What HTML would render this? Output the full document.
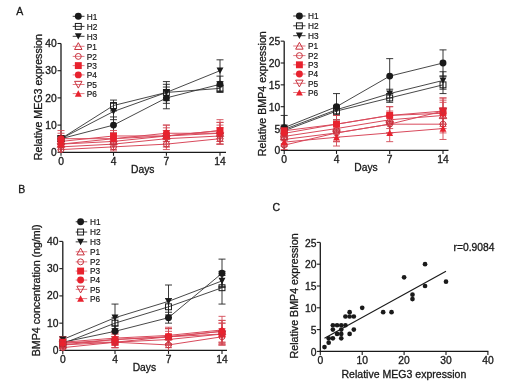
<!DOCTYPE html><html><head><meta charset="utf-8"><style>html,body{margin:0;padding:0;background:#fff;}svg{display:block;will-change:transform;filter:blur(0.25px);}text{stroke:#222;stroke-width:0.3px;font-family:"Liberation Sans", sans-serif;}</style></head><body>
<svg width="520" height="390" viewBox="0 0 520 390">
<rect width="520" height="390" fill="#fff"/>
<text x="16.20" y="15.20" font-size="10.5" text-anchor="start" fill="#111" >A</text>
<text x="18.30" y="193.40" font-size="10.5" text-anchor="start" fill="#111" >B</text>
<text x="272.50" y="210.50" font-size="10.5" text-anchor="start" fill="#111" >C</text>
<line x1="61" y1="43.50" x2="61" y2="152.3" stroke="#1a1a1a" stroke-width="1.3"/>
<line x1="60.35" y1="152.3" x2="226" y2="152.3" stroke="#1a1a1a" stroke-width="1.3"/>
<line x1="57.5" y1="152.30" x2="61" y2="152.30" stroke="#1a1a1a" stroke-width="1.1"/>
<text x="56.80" y="156.00" font-size="10.3" text-anchor="end" fill="#111" >0</text>
<line x1="57.5" y1="125.10" x2="61" y2="125.10" stroke="#1a1a1a" stroke-width="1.1"/>
<text x="56.80" y="128.80" font-size="10.3" text-anchor="end" fill="#111" >10</text>
<line x1="57.5" y1="97.90" x2="61" y2="97.90" stroke="#1a1a1a" stroke-width="1.1"/>
<text x="56.80" y="101.60" font-size="10.3" text-anchor="end" fill="#111" >20</text>
<line x1="57.5" y1="70.70" x2="61" y2="70.70" stroke="#1a1a1a" stroke-width="1.1"/>
<text x="56.80" y="74.40" font-size="10.3" text-anchor="end" fill="#111" >30</text>
<line x1="57.5" y1="43.50" x2="61" y2="43.50" stroke="#1a1a1a" stroke-width="1.1"/>
<text x="56.80" y="47.20" font-size="10.3" text-anchor="end" fill="#111" >40</text>
<line x1="61" y1="152.3" x2="61" y2="155.8" stroke="#1a1a1a" stroke-width="1.1"/>
<text x="61.00" y="164.60" font-size="10.3" text-anchor="middle" fill="#111" >0</text>
<line x1="113.5" y1="152.3" x2="113.5" y2="155.8" stroke="#1a1a1a" stroke-width="1.1"/>
<text x="113.50" y="164.60" font-size="10.3" text-anchor="middle" fill="#111" >4</text>
<line x1="166.4" y1="152.3" x2="166.4" y2="155.8" stroke="#1a1a1a" stroke-width="1.1"/>
<text x="166.40" y="164.60" font-size="10.3" text-anchor="middle" fill="#111" >7</text>
<line x1="220" y1="152.3" x2="220" y2="155.8" stroke="#1a1a1a" stroke-width="1.1"/>
<text x="220.00" y="164.60" font-size="10.3" text-anchor="middle" fill="#111" >14</text>
<text x="142.75" y="173.20" font-size="10.3" text-anchor="middle" fill="#111" >Days</text>
<text x="0" y="0" font-size="10.67" text-anchor="middle" fill="#111" transform="translate(42.2,97.1) rotate(-90)">Relative MEG3 expression</text>
<polyline points="61.00,138.70 113.50,105.52 166.40,92.46 220.00,88.38" fill="none" stroke="#333" stroke-width="0.9"/>
<polyline points="61.00,138.70 113.50,111.50 166.40,92.46 220.00,70.70" fill="none" stroke="#333" stroke-width="0.9"/>
<polyline points="61.00,138.70 113.50,125.10 166.40,97.90 220.00,84.30" fill="none" stroke="#333" stroke-width="0.9"/>
<polyline points="61.00,144.14 113.50,141.42 166.40,135.98 220.00,133.26" fill="none" stroke="#d94a5c" stroke-width="1.0"/>
<polyline points="61.00,149.58 113.50,146.86 166.40,144.14 220.00,138.70" fill="none" stroke="#d94a5c" stroke-width="1.0"/>
<polyline points="61.00,141.42 113.50,135.98 166.40,135.98 220.00,130.54" fill="none" stroke="#d94a5c" stroke-width="1.0"/>
<polyline points="61.00,138.70 113.50,138.70 166.40,133.26 220.00,133.26" fill="none" stroke="#d94a5c" stroke-width="1.0"/>
<polyline points="61.00,146.86 113.50,144.14 166.40,138.70 220.00,135.98" fill="none" stroke="#d94a5c" stroke-width="1.0"/>
<polyline points="61.00,144.14 113.50,138.70 166.40,135.98 220.00,130.54" fill="none" stroke="#d94a5c" stroke-width="1.0"/>
<line x1="61" y1="135.98" x2="61" y2="141.42" stroke="#222" stroke-width="0.9"/>
<line x1="57.5" y1="135.98" x2="64.5" y2="135.98" stroke="#222" stroke-width="0.9"/>
<line x1="57.5" y1="141.42" x2="64.5" y2="141.42" stroke="#222" stroke-width="0.9"/>
<line x1="113.5" y1="100.08" x2="113.5" y2="110.96" stroke="#222" stroke-width="0.9"/>
<line x1="110.0" y1="100.08" x2="117.0" y2="100.08" stroke="#222" stroke-width="0.9"/>
<line x1="110.0" y1="110.96" x2="117.0" y2="110.96" stroke="#222" stroke-width="0.9"/>
<line x1="166.4" y1="84.30" x2="166.4" y2="100.62" stroke="#222" stroke-width="0.9"/>
<line x1="162.9" y1="84.30" x2="169.9" y2="84.30" stroke="#222" stroke-width="0.9"/>
<line x1="162.9" y1="100.62" x2="169.9" y2="100.62" stroke="#222" stroke-width="0.9"/>
<line x1="220" y1="85.66" x2="220" y2="91.10" stroke="#222" stroke-width="0.9"/>
<line x1="216.5" y1="85.66" x2="223.5" y2="85.66" stroke="#222" stroke-width="0.9"/>
<line x1="216.5" y1="91.10" x2="223.5" y2="91.10" stroke="#222" stroke-width="0.9"/>
<line x1="61" y1="135.98" x2="61" y2="141.42" stroke="#222" stroke-width="0.9"/>
<line x1="57.5" y1="135.98" x2="64.5" y2="135.98" stroke="#222" stroke-width="0.9"/>
<line x1="57.5" y1="141.42" x2="64.5" y2="141.42" stroke="#222" stroke-width="0.9"/>
<line x1="113.5" y1="103.34" x2="113.5" y2="119.66" stroke="#222" stroke-width="0.9"/>
<line x1="110.0" y1="103.34" x2="117.0" y2="103.34" stroke="#222" stroke-width="0.9"/>
<line x1="110.0" y1="119.66" x2="117.0" y2="119.66" stroke="#222" stroke-width="0.9"/>
<line x1="166.4" y1="81.58" x2="166.4" y2="103.34" stroke="#222" stroke-width="0.9"/>
<line x1="162.9" y1="81.58" x2="169.9" y2="81.58" stroke="#222" stroke-width="0.9"/>
<line x1="162.9" y1="103.34" x2="169.9" y2="103.34" stroke="#222" stroke-width="0.9"/>
<line x1="220" y1="59.82" x2="220" y2="81.58" stroke="#222" stroke-width="0.9"/>
<line x1="216.5" y1="59.82" x2="223.5" y2="59.82" stroke="#222" stroke-width="0.9"/>
<line x1="216.5" y1="81.58" x2="223.5" y2="81.58" stroke="#222" stroke-width="0.9"/>
<line x1="61" y1="135.98" x2="61" y2="141.42" stroke="#222" stroke-width="0.9"/>
<line x1="57.5" y1="135.98" x2="64.5" y2="135.98" stroke="#222" stroke-width="0.9"/>
<line x1="57.5" y1="141.42" x2="64.5" y2="141.42" stroke="#222" stroke-width="0.9"/>
<line x1="113.5" y1="116.94" x2="113.5" y2="133.26" stroke="#222" stroke-width="0.9"/>
<line x1="110.0" y1="116.94" x2="117.0" y2="116.94" stroke="#222" stroke-width="0.9"/>
<line x1="110.0" y1="133.26" x2="117.0" y2="133.26" stroke="#222" stroke-width="0.9"/>
<line x1="166.4" y1="87.02" x2="166.4" y2="108.78" stroke="#222" stroke-width="0.9"/>
<line x1="162.9" y1="87.02" x2="169.9" y2="87.02" stroke="#222" stroke-width="0.9"/>
<line x1="162.9" y1="108.78" x2="169.9" y2="108.78" stroke="#222" stroke-width="0.9"/>
<line x1="220" y1="76.14" x2="220" y2="92.46" stroke="#222" stroke-width="0.9"/>
<line x1="216.5" y1="76.14" x2="223.5" y2="76.14" stroke="#222" stroke-width="0.9"/>
<line x1="216.5" y1="92.46" x2="223.5" y2="92.46" stroke="#222" stroke-width="0.9"/>
<line x1="61" y1="135.98" x2="61" y2="152.30" stroke="#d24a56" stroke-width="0.9"/>
<line x1="57.5" y1="135.98" x2="64.5" y2="135.98" stroke="#d24a56" stroke-width="0.9"/>
<line x1="113.5" y1="135.98" x2="113.5" y2="146.86" stroke="#d24a56" stroke-width="0.9"/>
<line x1="110.0" y1="135.98" x2="117.0" y2="135.98" stroke="#d24a56" stroke-width="0.9"/>
<line x1="110.0" y1="146.86" x2="117.0" y2="146.86" stroke="#d24a56" stroke-width="0.9"/>
<line x1="166.4" y1="125.10" x2="166.4" y2="146.86" stroke="#d24a56" stroke-width="0.9"/>
<line x1="162.9" y1="125.10" x2="169.9" y2="125.10" stroke="#d24a56" stroke-width="0.9"/>
<line x1="162.9" y1="146.86" x2="169.9" y2="146.86" stroke="#d24a56" stroke-width="0.9"/>
<line x1="220" y1="122.38" x2="220" y2="144.14" stroke="#d24a56" stroke-width="0.9"/>
<line x1="216.5" y1="122.38" x2="223.5" y2="122.38" stroke="#d24a56" stroke-width="0.9"/>
<line x1="216.5" y1="144.14" x2="223.5" y2="144.14" stroke="#d24a56" stroke-width="0.9"/>
<line x1="61" y1="144.14" x2="61" y2="152.30" stroke="#d24a56" stroke-width="0.9"/>
<line x1="57.5" y1="144.14" x2="64.5" y2="144.14" stroke="#d24a56" stroke-width="0.9"/>
<line x1="113.5" y1="142.78" x2="113.5" y2="150.94" stroke="#d24a56" stroke-width="0.9"/>
<line x1="110.0" y1="142.78" x2="117.0" y2="142.78" stroke="#d24a56" stroke-width="0.9"/>
<line x1="110.0" y1="150.94" x2="117.0" y2="150.94" stroke="#d24a56" stroke-width="0.9"/>
<line x1="166.4" y1="138.70" x2="166.4" y2="149.58" stroke="#d24a56" stroke-width="0.9"/>
<line x1="162.9" y1="138.70" x2="169.9" y2="138.70" stroke="#d24a56" stroke-width="0.9"/>
<line x1="162.9" y1="149.58" x2="169.9" y2="149.58" stroke="#d24a56" stroke-width="0.9"/>
<line x1="220" y1="133.26" x2="220" y2="144.14" stroke="#d24a56" stroke-width="0.9"/>
<line x1="216.5" y1="133.26" x2="223.5" y2="133.26" stroke="#d24a56" stroke-width="0.9"/>
<line x1="216.5" y1="144.14" x2="223.5" y2="144.14" stroke="#d24a56" stroke-width="0.9"/>
<line x1="61" y1="130.54" x2="61" y2="152.30" stroke="#d24a56" stroke-width="0.9"/>
<line x1="57.5" y1="130.54" x2="64.5" y2="130.54" stroke="#d24a56" stroke-width="0.9"/>
<line x1="113.5" y1="130.54" x2="113.5" y2="141.42" stroke="#d24a56" stroke-width="0.9"/>
<line x1="110.0" y1="130.54" x2="117.0" y2="130.54" stroke="#d24a56" stroke-width="0.9"/>
<line x1="110.0" y1="141.42" x2="117.0" y2="141.42" stroke="#d24a56" stroke-width="0.9"/>
<line x1="166.4" y1="127.82" x2="166.4" y2="144.14" stroke="#d24a56" stroke-width="0.9"/>
<line x1="162.9" y1="127.82" x2="169.9" y2="127.82" stroke="#d24a56" stroke-width="0.9"/>
<line x1="162.9" y1="144.14" x2="169.9" y2="144.14" stroke="#d24a56" stroke-width="0.9"/>
<line x1="220" y1="119.66" x2="220" y2="141.42" stroke="#d24a56" stroke-width="0.9"/>
<line x1="216.5" y1="119.66" x2="223.5" y2="119.66" stroke="#d24a56" stroke-width="0.9"/>
<line x1="216.5" y1="141.42" x2="223.5" y2="141.42" stroke="#d24a56" stroke-width="0.9"/>
<line x1="61" y1="133.26" x2="61" y2="144.14" stroke="#d24a56" stroke-width="0.9"/>
<line x1="57.5" y1="133.26" x2="64.5" y2="133.26" stroke="#d24a56" stroke-width="0.9"/>
<line x1="57.5" y1="144.14" x2="64.5" y2="144.14" stroke="#d24a56" stroke-width="0.9"/>
<line x1="113.5" y1="133.26" x2="113.5" y2="144.14" stroke="#d24a56" stroke-width="0.9"/>
<line x1="110.0" y1="133.26" x2="117.0" y2="133.26" stroke="#d24a56" stroke-width="0.9"/>
<line x1="110.0" y1="144.14" x2="117.0" y2="144.14" stroke="#d24a56" stroke-width="0.9"/>
<line x1="166.4" y1="125.10" x2="166.4" y2="141.42" stroke="#d24a56" stroke-width="0.9"/>
<line x1="162.9" y1="125.10" x2="169.9" y2="125.10" stroke="#d24a56" stroke-width="0.9"/>
<line x1="162.9" y1="141.42" x2="169.9" y2="141.42" stroke="#d24a56" stroke-width="0.9"/>
<line x1="220" y1="125.10" x2="220" y2="141.42" stroke="#d24a56" stroke-width="0.9"/>
<line x1="216.5" y1="125.10" x2="223.5" y2="125.10" stroke="#d24a56" stroke-width="0.9"/>
<line x1="216.5" y1="141.42" x2="223.5" y2="141.42" stroke="#d24a56" stroke-width="0.9"/>
<line x1="61" y1="141.42" x2="61" y2="152.30" stroke="#d24a56" stroke-width="0.9"/>
<line x1="57.5" y1="141.42" x2="64.5" y2="141.42" stroke="#d24a56" stroke-width="0.9"/>
<line x1="113.5" y1="138.70" x2="113.5" y2="149.58" stroke="#d24a56" stroke-width="0.9"/>
<line x1="110.0" y1="138.70" x2="117.0" y2="138.70" stroke="#d24a56" stroke-width="0.9"/>
<line x1="110.0" y1="149.58" x2="117.0" y2="149.58" stroke="#d24a56" stroke-width="0.9"/>
<line x1="166.4" y1="130.54" x2="166.4" y2="146.86" stroke="#d24a56" stroke-width="0.9"/>
<line x1="162.9" y1="130.54" x2="169.9" y2="130.54" stroke="#d24a56" stroke-width="0.9"/>
<line x1="162.9" y1="146.86" x2="169.9" y2="146.86" stroke="#d24a56" stroke-width="0.9"/>
<line x1="220" y1="127.82" x2="220" y2="144.14" stroke="#d24a56" stroke-width="0.9"/>
<line x1="216.5" y1="127.82" x2="223.5" y2="127.82" stroke="#d24a56" stroke-width="0.9"/>
<line x1="216.5" y1="144.14" x2="223.5" y2="144.14" stroke="#d24a56" stroke-width="0.9"/>
<line x1="61" y1="138.70" x2="61" y2="149.58" stroke="#d24a56" stroke-width="0.9"/>
<line x1="57.5" y1="138.70" x2="64.5" y2="138.70" stroke="#d24a56" stroke-width="0.9"/>
<line x1="57.5" y1="149.58" x2="64.5" y2="149.58" stroke="#d24a56" stroke-width="0.9"/>
<line x1="113.5" y1="133.26" x2="113.5" y2="144.14" stroke="#d24a56" stroke-width="0.9"/>
<line x1="110.0" y1="133.26" x2="117.0" y2="133.26" stroke="#d24a56" stroke-width="0.9"/>
<line x1="110.0" y1="144.14" x2="117.0" y2="144.14" stroke="#d24a56" stroke-width="0.9"/>
<line x1="166.4" y1="130.54" x2="166.4" y2="141.42" stroke="#d24a56" stroke-width="0.9"/>
<line x1="162.9" y1="130.54" x2="169.9" y2="130.54" stroke="#d24a56" stroke-width="0.9"/>
<line x1="162.9" y1="141.42" x2="169.9" y2="141.42" stroke="#d24a56" stroke-width="0.9"/>
<line x1="220" y1="122.38" x2="220" y2="138.70" stroke="#d24a56" stroke-width="0.9"/>
<line x1="216.5" y1="122.38" x2="223.5" y2="122.38" stroke="#d24a56" stroke-width="0.9"/>
<line x1="216.5" y1="138.70" x2="223.5" y2="138.70" stroke="#d24a56" stroke-width="0.9"/>
<rect x="58.05" y="135.75" width="5.90" height="5.90" fill="none" stroke="#1a1a1a" stroke-width="1.0"/>
<rect x="110.55" y="102.57" width="5.90" height="5.90" fill="none" stroke="#1a1a1a" stroke-width="1.0"/>
<rect x="163.45" y="89.51" width="5.90" height="5.90" fill="none" stroke="#1a1a1a" stroke-width="1.0"/>
<rect x="217.05" y="85.43" width="5.90" height="5.90" fill="none" stroke="#1a1a1a" stroke-width="1.0"/>
<path d="M57.55,135.60 L64.45,135.60 L61.00,141.98 Z" fill="#1a1a1a"/>
<path d="M110.05,108.39 L116.95,108.39 L113.50,114.78 Z" fill="#1a1a1a"/>
<path d="M162.95,89.36 L169.85,89.36 L166.40,95.74 Z" fill="#1a1a1a"/>
<path d="M216.55,67.59 L223.45,67.59 L220.00,73.98 Z" fill="#1a1a1a"/>
<circle cx="61.00" cy="138.70" r="3.45" fill="#1a1a1a"/>
<circle cx="113.50" cy="125.10" r="3.45" fill="#1a1a1a"/>
<circle cx="166.40" cy="97.90" r="3.45" fill="#1a1a1a"/>
<circle cx="220.00" cy="84.30" r="3.45" fill="#1a1a1a"/>
<path d="M57.27,147.31 L64.73,147.31 L61.00,140.52 Z" fill="none" stroke="#c8303c" stroke-width="1.0" stroke-linejoin="miter"/>
<path d="M109.77,144.59 L117.23,144.59 L113.50,137.80 Z" fill="none" stroke="#c8303c" stroke-width="1.0" stroke-linejoin="miter"/>
<path d="M162.67,139.15 L170.13,139.15 L166.40,132.36 Z" fill="none" stroke="#c8303c" stroke-width="1.0" stroke-linejoin="miter"/>
<path d="M216.27,136.43 L223.73,136.43 L220.00,129.64 Z" fill="none" stroke="#c8303c" stroke-width="1.0" stroke-linejoin="miter"/>
<circle cx="61.00" cy="149.58" r="2.95" fill="none" stroke="#c8303c" stroke-width="1.0"/>
<circle cx="113.50" cy="146.86" r="2.95" fill="none" stroke="#c8303c" stroke-width="1.0"/>
<circle cx="166.40" cy="144.14" r="2.95" fill="none" stroke="#c8303c" stroke-width="1.0"/>
<circle cx="220.00" cy="138.70" r="2.95" fill="none" stroke="#c8303c" stroke-width="1.0"/>
<rect x="57.55" y="137.97" width="6.90" height="6.90" fill="#e8222e"/>
<rect x="110.05" y="132.53" width="6.90" height="6.90" fill="#e8222e"/>
<rect x="162.95" y="132.53" width="6.90" height="6.90" fill="#e8222e"/>
<rect x="216.55" y="127.09" width="6.90" height="6.90" fill="#e8222e"/>
<circle cx="61.00" cy="138.70" r="3.45" fill="#e8222e"/>
<circle cx="113.50" cy="138.70" r="3.45" fill="#e8222e"/>
<circle cx="166.40" cy="133.26" r="3.45" fill="#e8222e"/>
<circle cx="220.00" cy="133.26" r="3.45" fill="#e8222e"/>
<path d="M57.27,143.69 L64.73,143.69 L61.00,150.48 Z" fill="none" stroke="#c8303c" stroke-width="1.0" stroke-linejoin="miter"/>
<path d="M109.77,140.97 L117.23,140.97 L113.50,147.76 Z" fill="none" stroke="#c8303c" stroke-width="1.0" stroke-linejoin="miter"/>
<path d="M162.67,135.53 L170.13,135.53 L166.40,142.32 Z" fill="none" stroke="#c8303c" stroke-width="1.0" stroke-linejoin="miter"/>
<path d="M216.27,132.81 L223.73,132.81 L220.00,139.60 Z" fill="none" stroke="#c8303c" stroke-width="1.0" stroke-linejoin="miter"/>
<path d="M57.55,147.25 L64.45,147.25 L61.00,140.86 Z" fill="#e8222e"/>
<path d="M110.05,141.81 L116.95,141.81 L113.50,135.42 Z" fill="#e8222e"/>
<path d="M162.95,139.09 L169.85,139.09 L166.40,132.70 Z" fill="#e8222e"/>
<path d="M216.55,133.65 L223.45,133.65 L220.00,127.26 Z" fill="#e8222e"/>
<line x1="72.7" y1="16.30" x2="84.5" y2="16.30" stroke="#222" stroke-width="0.9"/>
<circle cx="78.30" cy="16.30" r="3.45" fill="#1a1a1a"/>
<text x="86.80" y="19.60" font-size="8.3" text-anchor="start" fill="#111" style="stroke-width:0.18px">H1</text>
<line x1="72.7" y1="26.40" x2="84.5" y2="26.40" stroke="#222" stroke-width="0.9"/>
<rect x="75.35" y="23.45" width="5.90" height="5.90" fill="none" stroke="#1a1a1a" stroke-width="1.0"/>
<text x="86.80" y="29.70" font-size="8.3" text-anchor="start" fill="#111" style="stroke-width:0.18px">H2</text>
<line x1="72.7" y1="36.30" x2="84.5" y2="36.30" stroke="#222" stroke-width="0.9"/>
<path d="M74.85,33.19 L81.75,33.19 L78.30,39.58 Z" fill="#1a1a1a"/>
<text x="86.80" y="39.60" font-size="8.3" text-anchor="start" fill="#111" style="stroke-width:0.18px">H3</text>
<line x1="72.7" y1="46.30" x2="84.5" y2="46.30" stroke="#e06a74" stroke-width="0.9"/>
<path d="M74.57,49.47 L82.03,49.47 L78.30,42.68 Z" fill="none" stroke="#c8303c" stroke-width="1.0" stroke-linejoin="miter"/>
<text x="86.80" y="49.60" font-size="8.3" text-anchor="start" fill="#111" style="stroke-width:0.18px">P1</text>
<line x1="72.7" y1="56.40" x2="84.5" y2="56.40" stroke="#e06a74" stroke-width="0.9"/>
<circle cx="78.30" cy="56.40" r="2.95" fill="none" stroke="#c8303c" stroke-width="1.0"/>
<text x="86.80" y="59.70" font-size="8.3" text-anchor="start" fill="#111" style="stroke-width:0.18px">P2</text>
<line x1="72.7" y1="65.60" x2="84.5" y2="65.60" stroke="#e06a74" stroke-width="0.9"/>
<rect x="74.85" y="62.15" width="6.90" height="6.90" fill="#e8222e"/>
<text x="86.80" y="68.90" font-size="8.3" text-anchor="start" fill="#111" style="stroke-width:0.18px">P3</text>
<line x1="72.7" y1="74.90" x2="84.5" y2="74.90" stroke="#e06a74" stroke-width="0.9"/>
<circle cx="78.30" cy="74.90" r="3.45" fill="#e8222e"/>
<text x="86.80" y="78.20" font-size="8.3" text-anchor="start" fill="#111" style="stroke-width:0.18px">P4</text>
<line x1="72.7" y1="84.50" x2="84.5" y2="84.50" stroke="#e06a74" stroke-width="0.9"/>
<path d="M74.57,81.33 L82.03,81.33 L78.30,88.12 Z" fill="none" stroke="#c8303c" stroke-width="1.0" stroke-linejoin="miter"/>
<text x="86.80" y="87.80" font-size="8.3" text-anchor="start" fill="#111" style="stroke-width:0.18px">P5</text>
<line x1="72.7" y1="93.60" x2="84.5" y2="93.60" stroke="#e06a74" stroke-width="0.9"/>
<path d="M74.85,96.70 L81.75,96.70 L78.30,90.32 Z" fill="#e8222e"/>
<text x="86.80" y="96.90" font-size="8.3" text-anchor="start" fill="#111" style="stroke-width:0.18px">P6</text>
<line x1="284.2" y1="41.15" x2="284.2" y2="150.4" stroke="#1a1a1a" stroke-width="1.3"/>
<line x1="283.55" y1="150.4" x2="448.5" y2="150.4" stroke="#1a1a1a" stroke-width="1.3"/>
<line x1="280.7" y1="150.40" x2="284.2" y2="150.40" stroke="#1a1a1a" stroke-width="1.1"/>
<text x="280.20" y="154.40" font-size="10.3" text-anchor="end" fill="#111" >0</text>
<line x1="280.7" y1="128.55" x2="284.2" y2="128.55" stroke="#1a1a1a" stroke-width="1.1"/>
<text x="280.20" y="132.55" font-size="10.3" text-anchor="end" fill="#111" >5</text>
<line x1="280.7" y1="106.70" x2="284.2" y2="106.70" stroke="#1a1a1a" stroke-width="1.1"/>
<text x="280.20" y="110.70" font-size="10.3" text-anchor="end" fill="#111" >10</text>
<line x1="280.7" y1="84.85" x2="284.2" y2="84.85" stroke="#1a1a1a" stroke-width="1.1"/>
<text x="280.20" y="88.85" font-size="10.3" text-anchor="end" fill="#111" >15</text>
<line x1="280.7" y1="63.00" x2="284.2" y2="63.00" stroke="#1a1a1a" stroke-width="1.1"/>
<text x="280.20" y="67.00" font-size="10.3" text-anchor="end" fill="#111" >20</text>
<line x1="280.7" y1="41.15" x2="284.2" y2="41.15" stroke="#1a1a1a" stroke-width="1.1"/>
<text x="280.20" y="45.15" font-size="10.3" text-anchor="end" fill="#111" >25</text>
<line x1="284.2" y1="150.4" x2="284.2" y2="153.9" stroke="#1a1a1a" stroke-width="1.1"/>
<text x="284.20" y="162.80" font-size="10.3" text-anchor="middle" fill="#111" >0</text>
<line x1="336.5" y1="150.4" x2="336.5" y2="153.9" stroke="#1a1a1a" stroke-width="1.1"/>
<text x="336.50" y="162.80" font-size="10.3" text-anchor="middle" fill="#111" >4</text>
<line x1="389.7" y1="150.4" x2="389.7" y2="153.9" stroke="#1a1a1a" stroke-width="1.1"/>
<text x="389.70" y="162.80" font-size="10.3" text-anchor="middle" fill="#111" >7</text>
<line x1="443" y1="150.4" x2="443" y2="153.9" stroke="#1a1a1a" stroke-width="1.1"/>
<text x="443.00" y="162.80" font-size="10.3" text-anchor="middle" fill="#111" >14</text>
<text x="366.00" y="170.50" font-size="10.3" text-anchor="middle" fill="#111" >Days</text>
<text x="0" y="0" font-size="10.67" text-anchor="middle" fill="#111" transform="translate(265.7,93.75) rotate(-90)">Relative BMP4 expression</text>
<polyline points="284.20,130.74 336.50,111.07 389.70,97.96 443.00,84.85" fill="none" stroke="#333" stroke-width="0.9"/>
<polyline points="284.20,129.42 336.50,109.76 389.70,93.59 443.00,80.48" fill="none" stroke="#333" stroke-width="0.9"/>
<polyline points="284.20,127.68 336.50,106.70 389.70,76.11 443.00,63.00" fill="none" stroke="#333" stroke-width="0.9"/>
<polyline points="284.20,136.42 336.50,128.55 389.70,119.81 443.00,115.44" fill="none" stroke="#d94a5c" stroke-width="1.0"/>
<polyline points="284.20,145.16 336.50,132.92 389.70,124.18 443.00,124.18" fill="none" stroke="#d94a5c" stroke-width="1.0"/>
<polyline points="284.20,130.74 336.50,124.18 389.70,115.44 443.00,111.07" fill="none" stroke="#d94a5c" stroke-width="1.0"/>
<polyline points="284.20,133.36 336.50,124.18 389.70,115.44 443.00,113.25" fill="none" stroke="#d94a5c" stroke-width="1.0"/>
<polyline points="284.20,139.47 336.50,132.92 389.70,124.18 443.00,111.07" fill="none" stroke="#d94a5c" stroke-width="1.0"/>
<polyline points="284.20,142.10 336.50,137.29 389.70,132.92 443.00,128.55" fill="none" stroke="#d94a5c" stroke-width="1.0"/>
<line x1="284.2" y1="126.37" x2="284.2" y2="135.11" stroke="#222" stroke-width="0.9"/>
<line x1="280.7" y1="126.37" x2="287.7" y2="126.37" stroke="#222" stroke-width="0.9"/>
<line x1="280.7" y1="135.11" x2="287.7" y2="135.11" stroke="#222" stroke-width="0.9"/>
<line x1="336.5" y1="106.70" x2="336.5" y2="115.44" stroke="#222" stroke-width="0.9"/>
<line x1="333.0" y1="106.70" x2="340.0" y2="106.70" stroke="#222" stroke-width="0.9"/>
<line x1="333.0" y1="115.44" x2="340.0" y2="115.44" stroke="#222" stroke-width="0.9"/>
<line x1="389.7" y1="93.59" x2="389.7" y2="102.33" stroke="#222" stroke-width="0.9"/>
<line x1="386.2" y1="93.59" x2="393.2" y2="93.59" stroke="#222" stroke-width="0.9"/>
<line x1="386.2" y1="102.33" x2="393.2" y2="102.33" stroke="#222" stroke-width="0.9"/>
<line x1="443" y1="76.11" x2="443" y2="93.59" stroke="#222" stroke-width="0.9"/>
<line x1="439.5" y1="76.11" x2="446.5" y2="76.11" stroke="#222" stroke-width="0.9"/>
<line x1="439.5" y1="93.59" x2="446.5" y2="93.59" stroke="#222" stroke-width="0.9"/>
<line x1="284.2" y1="125.05" x2="284.2" y2="133.79" stroke="#222" stroke-width="0.9"/>
<line x1="280.7" y1="125.05" x2="287.7" y2="125.05" stroke="#222" stroke-width="0.9"/>
<line x1="280.7" y1="133.79" x2="287.7" y2="133.79" stroke="#222" stroke-width="0.9"/>
<line x1="336.5" y1="105.39" x2="336.5" y2="114.13" stroke="#222" stroke-width="0.9"/>
<line x1="333.0" y1="105.39" x2="340.0" y2="105.39" stroke="#222" stroke-width="0.9"/>
<line x1="333.0" y1="114.13" x2="340.0" y2="114.13" stroke="#222" stroke-width="0.9"/>
<line x1="389.7" y1="89.22" x2="389.7" y2="97.96" stroke="#222" stroke-width="0.9"/>
<line x1="386.2" y1="89.22" x2="393.2" y2="89.22" stroke="#222" stroke-width="0.9"/>
<line x1="386.2" y1="97.96" x2="393.2" y2="97.96" stroke="#222" stroke-width="0.9"/>
<line x1="443" y1="71.74" x2="443" y2="89.22" stroke="#222" stroke-width="0.9"/>
<line x1="439.5" y1="71.74" x2="446.5" y2="71.74" stroke="#222" stroke-width="0.9"/>
<line x1="439.5" y1="89.22" x2="446.5" y2="89.22" stroke="#222" stroke-width="0.9"/>
<line x1="284.2" y1="115.44" x2="284.2" y2="139.91" stroke="#222" stroke-width="0.9"/>
<line x1="280.7" y1="115.44" x2="287.7" y2="115.44" stroke="#222" stroke-width="0.9"/>
<line x1="280.7" y1="139.91" x2="287.7" y2="139.91" stroke="#222" stroke-width="0.9"/>
<line x1="336.5" y1="93.59" x2="336.5" y2="119.81" stroke="#222" stroke-width="0.9"/>
<line x1="333.0" y1="93.59" x2="340.0" y2="93.59" stroke="#222" stroke-width="0.9"/>
<line x1="333.0" y1="119.81" x2="340.0" y2="119.81" stroke="#222" stroke-width="0.9"/>
<line x1="389.7" y1="58.63" x2="389.7" y2="93.59" stroke="#222" stroke-width="0.9"/>
<line x1="386.2" y1="58.63" x2="393.2" y2="58.63" stroke="#222" stroke-width="0.9"/>
<line x1="386.2" y1="93.59" x2="393.2" y2="93.59" stroke="#222" stroke-width="0.9"/>
<line x1="443" y1="49.89" x2="443" y2="76.11" stroke="#222" stroke-width="0.9"/>
<line x1="439.5" y1="49.89" x2="446.5" y2="49.89" stroke="#222" stroke-width="0.9"/>
<line x1="439.5" y1="76.11" x2="446.5" y2="76.11" stroke="#222" stroke-width="0.9"/>
<line x1="284.2" y1="127.68" x2="284.2" y2="145.16" stroke="#d24a56" stroke-width="0.9"/>
<line x1="280.7" y1="127.68" x2="287.7" y2="127.68" stroke="#d24a56" stroke-width="0.9"/>
<line x1="280.7" y1="145.16" x2="287.7" y2="145.16" stroke="#d24a56" stroke-width="0.9"/>
<line x1="336.5" y1="119.81" x2="336.5" y2="137.29" stroke="#d24a56" stroke-width="0.9"/>
<line x1="333.0" y1="119.81" x2="340.0" y2="119.81" stroke="#d24a56" stroke-width="0.9"/>
<line x1="333.0" y1="137.29" x2="340.0" y2="137.29" stroke="#d24a56" stroke-width="0.9"/>
<line x1="389.7" y1="111.07" x2="389.7" y2="128.55" stroke="#d24a56" stroke-width="0.9"/>
<line x1="386.2" y1="111.07" x2="393.2" y2="111.07" stroke="#d24a56" stroke-width="0.9"/>
<line x1="386.2" y1="128.55" x2="393.2" y2="128.55" stroke="#d24a56" stroke-width="0.9"/>
<line x1="443" y1="102.33" x2="443" y2="128.55" stroke="#d24a56" stroke-width="0.9"/>
<line x1="439.5" y1="102.33" x2="446.5" y2="102.33" stroke="#d24a56" stroke-width="0.9"/>
<line x1="439.5" y1="128.55" x2="446.5" y2="128.55" stroke="#d24a56" stroke-width="0.9"/>
<line x1="284.2" y1="140.79" x2="284.2" y2="149.53" stroke="#d24a56" stroke-width="0.9"/>
<line x1="280.7" y1="140.79" x2="287.7" y2="140.79" stroke="#d24a56" stroke-width="0.9"/>
<line x1="280.7" y1="149.53" x2="287.7" y2="149.53" stroke="#d24a56" stroke-width="0.9"/>
<line x1="336.5" y1="124.18" x2="336.5" y2="141.66" stroke="#d24a56" stroke-width="0.9"/>
<line x1="333.0" y1="124.18" x2="340.0" y2="124.18" stroke="#d24a56" stroke-width="0.9"/>
<line x1="333.0" y1="141.66" x2="340.0" y2="141.66" stroke="#d24a56" stroke-width="0.9"/>
<line x1="389.7" y1="115.44" x2="389.7" y2="132.92" stroke="#d24a56" stroke-width="0.9"/>
<line x1="386.2" y1="115.44" x2="393.2" y2="115.44" stroke="#d24a56" stroke-width="0.9"/>
<line x1="386.2" y1="132.92" x2="393.2" y2="132.92" stroke="#d24a56" stroke-width="0.9"/>
<line x1="443" y1="115.44" x2="443" y2="132.92" stroke="#d24a56" stroke-width="0.9"/>
<line x1="439.5" y1="115.44" x2="446.5" y2="115.44" stroke="#d24a56" stroke-width="0.9"/>
<line x1="439.5" y1="132.92" x2="446.5" y2="132.92" stroke="#d24a56" stroke-width="0.9"/>
<line x1="284.2" y1="126.37" x2="284.2" y2="135.11" stroke="#d24a56" stroke-width="0.9"/>
<line x1="280.7" y1="126.37" x2="287.7" y2="126.37" stroke="#d24a56" stroke-width="0.9"/>
<line x1="280.7" y1="135.11" x2="287.7" y2="135.11" stroke="#d24a56" stroke-width="0.9"/>
<line x1="336.5" y1="115.44" x2="336.5" y2="132.92" stroke="#d24a56" stroke-width="0.9"/>
<line x1="333.0" y1="115.44" x2="340.0" y2="115.44" stroke="#d24a56" stroke-width="0.9"/>
<line x1="333.0" y1="132.92" x2="340.0" y2="132.92" stroke="#d24a56" stroke-width="0.9"/>
<line x1="389.7" y1="106.70" x2="389.7" y2="124.18" stroke="#d24a56" stroke-width="0.9"/>
<line x1="386.2" y1="106.70" x2="393.2" y2="106.70" stroke="#d24a56" stroke-width="0.9"/>
<line x1="386.2" y1="124.18" x2="393.2" y2="124.18" stroke="#d24a56" stroke-width="0.9"/>
<line x1="443" y1="97.96" x2="443" y2="124.18" stroke="#d24a56" stroke-width="0.9"/>
<line x1="439.5" y1="97.96" x2="446.5" y2="97.96" stroke="#d24a56" stroke-width="0.9"/>
<line x1="439.5" y1="124.18" x2="446.5" y2="124.18" stroke="#d24a56" stroke-width="0.9"/>
<line x1="284.2" y1="128.99" x2="284.2" y2="137.73" stroke="#d24a56" stroke-width="0.9"/>
<line x1="280.7" y1="128.99" x2="287.7" y2="128.99" stroke="#d24a56" stroke-width="0.9"/>
<line x1="280.7" y1="137.73" x2="287.7" y2="137.73" stroke="#d24a56" stroke-width="0.9"/>
<line x1="336.5" y1="115.44" x2="336.5" y2="132.92" stroke="#d24a56" stroke-width="0.9"/>
<line x1="333.0" y1="115.44" x2="340.0" y2="115.44" stroke="#d24a56" stroke-width="0.9"/>
<line x1="333.0" y1="132.92" x2="340.0" y2="132.92" stroke="#d24a56" stroke-width="0.9"/>
<line x1="389.7" y1="106.70" x2="389.7" y2="124.18" stroke="#d24a56" stroke-width="0.9"/>
<line x1="386.2" y1="106.70" x2="393.2" y2="106.70" stroke="#d24a56" stroke-width="0.9"/>
<line x1="386.2" y1="124.18" x2="393.2" y2="124.18" stroke="#d24a56" stroke-width="0.9"/>
<line x1="443" y1="100.15" x2="443" y2="126.37" stroke="#d24a56" stroke-width="0.9"/>
<line x1="439.5" y1="100.15" x2="446.5" y2="100.15" stroke="#d24a56" stroke-width="0.9"/>
<line x1="439.5" y1="126.37" x2="446.5" y2="126.37" stroke="#d24a56" stroke-width="0.9"/>
<line x1="284.2" y1="135.11" x2="284.2" y2="143.84" stroke="#d24a56" stroke-width="0.9"/>
<line x1="280.7" y1="135.11" x2="287.7" y2="135.11" stroke="#d24a56" stroke-width="0.9"/>
<line x1="280.7" y1="143.84" x2="287.7" y2="143.84" stroke="#d24a56" stroke-width="0.9"/>
<line x1="336.5" y1="124.18" x2="336.5" y2="141.66" stroke="#d24a56" stroke-width="0.9"/>
<line x1="333.0" y1="124.18" x2="340.0" y2="124.18" stroke="#d24a56" stroke-width="0.9"/>
<line x1="333.0" y1="141.66" x2="340.0" y2="141.66" stroke="#d24a56" stroke-width="0.9"/>
<line x1="389.7" y1="115.44" x2="389.7" y2="132.92" stroke="#d24a56" stroke-width="0.9"/>
<line x1="386.2" y1="115.44" x2="393.2" y2="115.44" stroke="#d24a56" stroke-width="0.9"/>
<line x1="386.2" y1="132.92" x2="393.2" y2="132.92" stroke="#d24a56" stroke-width="0.9"/>
<line x1="443" y1="97.96" x2="443" y2="124.18" stroke="#d24a56" stroke-width="0.9"/>
<line x1="439.5" y1="97.96" x2="446.5" y2="97.96" stroke="#d24a56" stroke-width="0.9"/>
<line x1="439.5" y1="124.18" x2="446.5" y2="124.18" stroke="#d24a56" stroke-width="0.9"/>
<line x1="284.2" y1="137.73" x2="284.2" y2="146.47" stroke="#d24a56" stroke-width="0.9"/>
<line x1="280.7" y1="137.73" x2="287.7" y2="137.73" stroke="#d24a56" stroke-width="0.9"/>
<line x1="280.7" y1="146.47" x2="287.7" y2="146.47" stroke="#d24a56" stroke-width="0.9"/>
<line x1="336.5" y1="128.55" x2="336.5" y2="146.03" stroke="#d24a56" stroke-width="0.9"/>
<line x1="333.0" y1="128.55" x2="340.0" y2="128.55" stroke="#d24a56" stroke-width="0.9"/>
<line x1="333.0" y1="146.03" x2="340.0" y2="146.03" stroke="#d24a56" stroke-width="0.9"/>
<line x1="389.7" y1="124.18" x2="389.7" y2="141.66" stroke="#d24a56" stroke-width="0.9"/>
<line x1="386.2" y1="124.18" x2="393.2" y2="124.18" stroke="#d24a56" stroke-width="0.9"/>
<line x1="386.2" y1="141.66" x2="393.2" y2="141.66" stroke="#d24a56" stroke-width="0.9"/>
<line x1="443" y1="117.62" x2="443" y2="139.47" stroke="#d24a56" stroke-width="0.9"/>
<line x1="439.5" y1="117.62" x2="446.5" y2="117.62" stroke="#d24a56" stroke-width="0.9"/>
<line x1="439.5" y1="139.47" x2="446.5" y2="139.47" stroke="#d24a56" stroke-width="0.9"/>
<rect x="281.25" y="127.79" width="5.90" height="5.90" fill="none" stroke="#1a1a1a" stroke-width="1.0"/>
<rect x="333.55" y="108.12" width="5.90" height="5.90" fill="none" stroke="#1a1a1a" stroke-width="1.0"/>
<rect x="386.75" y="95.01" width="5.90" height="5.90" fill="none" stroke="#1a1a1a" stroke-width="1.0"/>
<rect x="440.05" y="81.90" width="5.90" height="5.90" fill="none" stroke="#1a1a1a" stroke-width="1.0"/>
<path d="M280.75,126.32 L287.65,126.32 L284.20,132.70 Z" fill="#1a1a1a"/>
<path d="M333.05,106.65 L339.95,106.65 L336.50,113.04 Z" fill="#1a1a1a"/>
<path d="M386.25,90.48 L393.15,90.48 L389.70,96.87 Z" fill="#1a1a1a"/>
<path d="M439.55,77.38 L446.45,77.38 L443.00,83.76 Z" fill="#1a1a1a"/>
<circle cx="284.20" cy="127.68" r="3.45" fill="#1a1a1a"/>
<circle cx="336.50" cy="106.70" r="3.45" fill="#1a1a1a"/>
<circle cx="389.70" cy="76.11" r="3.45" fill="#1a1a1a"/>
<circle cx="443.00" cy="63.00" r="3.45" fill="#1a1a1a"/>
<path d="M280.47,139.59 L287.93,139.59 L284.20,132.79 Z" fill="none" stroke="#c8303c" stroke-width="1.0" stroke-linejoin="miter"/>
<path d="M332.77,131.72 L340.23,131.72 L336.50,124.93 Z" fill="none" stroke="#c8303c" stroke-width="1.0" stroke-linejoin="miter"/>
<path d="M385.97,122.98 L393.43,122.98 L389.70,116.19 Z" fill="none" stroke="#c8303c" stroke-width="1.0" stroke-linejoin="miter"/>
<path d="M439.27,118.61 L446.73,118.61 L443.00,111.82 Z" fill="none" stroke="#c8303c" stroke-width="1.0" stroke-linejoin="miter"/>
<circle cx="284.20" cy="145.16" r="2.95" fill="none" stroke="#c8303c" stroke-width="1.0"/>
<circle cx="336.50" cy="132.92" r="2.95" fill="none" stroke="#c8303c" stroke-width="1.0"/>
<circle cx="389.70" cy="124.18" r="2.95" fill="none" stroke="#c8303c" stroke-width="1.0"/>
<circle cx="443.00" cy="124.18" r="2.95" fill="none" stroke="#c8303c" stroke-width="1.0"/>
<rect x="280.75" y="127.29" width="6.90" height="6.90" fill="#e8222e"/>
<rect x="333.05" y="120.73" width="6.90" height="6.90" fill="#e8222e"/>
<rect x="386.25" y="111.99" width="6.90" height="6.90" fill="#e8222e"/>
<rect x="439.55" y="107.62" width="6.90" height="6.90" fill="#e8222e"/>
<circle cx="284.20" cy="133.36" r="3.45" fill="#e8222e"/>
<circle cx="336.50" cy="124.18" r="3.45" fill="#e8222e"/>
<circle cx="389.70" cy="115.44" r="3.45" fill="#e8222e"/>
<circle cx="443.00" cy="113.25" r="3.45" fill="#e8222e"/>
<path d="M280.47,136.30 L287.93,136.30 L284.20,143.10 Z" fill="none" stroke="#c8303c" stroke-width="1.0" stroke-linejoin="miter"/>
<path d="M332.77,129.75 L340.23,129.75 L336.50,136.54 Z" fill="none" stroke="#c8303c" stroke-width="1.0" stroke-linejoin="miter"/>
<path d="M385.97,121.01 L393.43,121.01 L389.70,127.80 Z" fill="none" stroke="#c8303c" stroke-width="1.0" stroke-linejoin="miter"/>
<path d="M439.27,107.90 L446.73,107.90 L443.00,114.69 Z" fill="none" stroke="#c8303c" stroke-width="1.0" stroke-linejoin="miter"/>
<path d="M280.75,145.20 L287.65,145.20 L284.20,138.82 Z" fill="#e8222e"/>
<path d="M333.05,140.40 L339.95,140.40 L336.50,134.01 Z" fill="#e8222e"/>
<path d="M386.25,136.03 L393.15,136.03 L389.70,129.64 Z" fill="#e8222e"/>
<path d="M439.55,131.66 L446.45,131.66 L443.00,125.27 Z" fill="#e8222e"/>
<line x1="293.2" y1="16.00" x2="305.5" y2="16.00" stroke="#222" stroke-width="0.9"/>
<circle cx="299.40" cy="16.00" r="3.45" fill="#1a1a1a"/>
<text x="308.00" y="19.30" font-size="8.3" text-anchor="start" fill="#111" style="stroke-width:0.18px">H1</text>
<line x1="293.2" y1="25.80" x2="305.5" y2="25.80" stroke="#222" stroke-width="0.9"/>
<rect x="296.45" y="22.85" width="5.90" height="5.90" fill="none" stroke="#1a1a1a" stroke-width="1.0"/>
<text x="308.00" y="29.10" font-size="8.3" text-anchor="start" fill="#111" style="stroke-width:0.18px">H2</text>
<line x1="293.2" y1="35.70" x2="305.5" y2="35.70" stroke="#222" stroke-width="0.9"/>
<path d="M295.95,32.59 L302.85,32.59 L299.40,38.98 Z" fill="#1a1a1a"/>
<text x="308.00" y="39.00" font-size="8.3" text-anchor="start" fill="#111" style="stroke-width:0.18px">H3</text>
<line x1="293.2" y1="46.00" x2="305.5" y2="46.00" stroke="#e06a74" stroke-width="0.9"/>
<path d="M295.67,49.17 L303.13,49.17 L299.40,42.38 Z" fill="none" stroke="#c8303c" stroke-width="1.0" stroke-linejoin="miter"/>
<text x="308.00" y="49.30" font-size="8.3" text-anchor="start" fill="#111" style="stroke-width:0.18px">P1</text>
<line x1="293.2" y1="55.60" x2="305.5" y2="55.60" stroke="#e06a74" stroke-width="0.9"/>
<circle cx="299.40" cy="55.60" r="2.95" fill="none" stroke="#c8303c" stroke-width="1.0"/>
<text x="308.00" y="58.90" font-size="8.3" text-anchor="start" fill="#111" style="stroke-width:0.18px">P2</text>
<line x1="293.2" y1="64.80" x2="305.5" y2="64.80" stroke="#e06a74" stroke-width="0.9"/>
<rect x="295.95" y="61.35" width="6.90" height="6.90" fill="#e8222e"/>
<text x="308.00" y="68.10" font-size="8.3" text-anchor="start" fill="#111" style="stroke-width:0.18px">P3</text>
<line x1="293.2" y1="74.00" x2="305.5" y2="74.00" stroke="#e06a74" stroke-width="0.9"/>
<circle cx="299.40" cy="74.00" r="3.45" fill="#e8222e"/>
<text x="308.00" y="77.30" font-size="8.3" text-anchor="start" fill="#111" style="stroke-width:0.18px">P4</text>
<line x1="293.2" y1="83.30" x2="305.5" y2="83.30" stroke="#e06a74" stroke-width="0.9"/>
<path d="M295.67,80.13 L303.13,80.13 L299.40,86.92 Z" fill="none" stroke="#c8303c" stroke-width="1.0" stroke-linejoin="miter"/>
<text x="308.00" y="86.60" font-size="8.3" text-anchor="start" fill="#111" style="stroke-width:0.18px">P5</text>
<line x1="293.2" y1="92.50" x2="305.5" y2="92.50" stroke="#e06a74" stroke-width="0.9"/>
<path d="M295.95,95.61 L302.85,95.61 L299.40,89.22 Z" fill="#e8222e"/>
<text x="308.00" y="95.80" font-size="8.3" text-anchor="start" fill="#111" style="stroke-width:0.18px">P6</text>
<line x1="62.8" y1="241.40" x2="62.8" y2="350.4" stroke="#1a1a1a" stroke-width="1.3"/>
<line x1="62.15" y1="350.4" x2="227" y2="350.4" stroke="#1a1a1a" stroke-width="1.3"/>
<line x1="59.3" y1="350.40" x2="62.8" y2="350.40" stroke="#1a1a1a" stroke-width="1.1"/>
<text x="58.50" y="353.80" font-size="10.3" text-anchor="end" fill="#111" >0</text>
<line x1="59.3" y1="323.15" x2="62.8" y2="323.15" stroke="#1a1a1a" stroke-width="1.1"/>
<text x="58.50" y="326.55" font-size="10.3" text-anchor="end" fill="#111" >10</text>
<line x1="59.3" y1="295.90" x2="62.8" y2="295.90" stroke="#1a1a1a" stroke-width="1.1"/>
<text x="58.50" y="299.30" font-size="10.3" text-anchor="end" fill="#111" >20</text>
<line x1="59.3" y1="268.65" x2="62.8" y2="268.65" stroke="#1a1a1a" stroke-width="1.1"/>
<text x="58.50" y="272.05" font-size="10.3" text-anchor="end" fill="#111" >30</text>
<line x1="59.3" y1="241.40" x2="62.8" y2="241.40" stroke="#1a1a1a" stroke-width="1.1"/>
<text x="58.50" y="244.80" font-size="10.3" text-anchor="end" fill="#111" >40</text>
<line x1="62.8" y1="350.4" x2="62.8" y2="353.9" stroke="#1a1a1a" stroke-width="1.1"/>
<text x="62.80" y="362.80" font-size="10.3" text-anchor="middle" fill="#111" >0</text>
<line x1="115" y1="350.4" x2="115" y2="353.9" stroke="#1a1a1a" stroke-width="1.1"/>
<text x="115.00" y="362.80" font-size="10.3" text-anchor="middle" fill="#111" >4</text>
<line x1="168.5" y1="350.4" x2="168.5" y2="353.9" stroke="#1a1a1a" stroke-width="1.1"/>
<text x="168.50" y="362.80" font-size="10.3" text-anchor="middle" fill="#111" >7</text>
<line x1="222" y1="350.4" x2="222" y2="353.9" stroke="#1a1a1a" stroke-width="1.1"/>
<text x="222.00" y="362.80" font-size="10.3" text-anchor="middle" fill="#111" >14</text>
<text x="144.40" y="371.30" font-size="10.3" text-anchor="middle" fill="#111" >Days</text>
<text x="0" y="0" font-size="10.65" text-anchor="middle" fill="#111" transform="translate(40.1,290.3) rotate(-90)">BMP4 concentration (ng/ml)</text>
<polyline points="62.80,343.59 115.00,323.15 168.50,306.80 222.00,287.72" fill="none" stroke="#333" stroke-width="0.9"/>
<polyline points="62.80,339.50 115.00,317.70 168.50,301.35 222.00,280.91" fill="none" stroke="#333" stroke-width="0.9"/>
<polyline points="62.80,342.22 115.00,331.32 168.50,317.70 222.00,273.28" fill="none" stroke="#333" stroke-width="0.9"/>
<polyline points="62.80,344.95 115.00,339.50 168.50,336.77 222.00,331.32" fill="none" stroke="#d94a5c" stroke-width="1.0"/>
<polyline points="62.80,347.67 115.00,342.22 168.50,344.95 222.00,336.77" fill="none" stroke="#d94a5c" stroke-width="1.0"/>
<polyline points="62.80,342.22 115.00,342.22 168.50,336.77 222.00,334.05" fill="none" stroke="#d94a5c" stroke-width="1.0"/>
<polyline points="62.80,343.59 115.00,339.50 168.50,336.77 222.00,331.32" fill="none" stroke="#d94a5c" stroke-width="1.0"/>
<polyline points="62.80,344.95 115.00,342.22 168.50,339.50 222.00,334.05" fill="none" stroke="#d94a5c" stroke-width="1.0"/>
<polyline points="62.80,342.22 115.00,338.14 168.50,335.41 222.00,329.96" fill="none" stroke="#d94a5c" stroke-width="1.0"/>
<line x1="62.8" y1="340.86" x2="62.8" y2="346.31" stroke="#222" stroke-width="0.9"/>
<line x1="59.3" y1="340.86" x2="66.3" y2="340.86" stroke="#222" stroke-width="0.9"/>
<line x1="59.3" y1="346.31" x2="66.3" y2="346.31" stroke="#222" stroke-width="0.9"/>
<line x1="115" y1="317.70" x2="115" y2="328.60" stroke="#222" stroke-width="0.9"/>
<line x1="111.5" y1="317.70" x2="118.5" y2="317.70" stroke="#222" stroke-width="0.9"/>
<line x1="111.5" y1="328.60" x2="118.5" y2="328.60" stroke="#222" stroke-width="0.9"/>
<line x1="168.5" y1="298.62" x2="168.5" y2="314.97" stroke="#222" stroke-width="0.9"/>
<line x1="165.0" y1="298.62" x2="172.0" y2="298.62" stroke="#222" stroke-width="0.9"/>
<line x1="165.0" y1="314.97" x2="172.0" y2="314.97" stroke="#222" stroke-width="0.9"/>
<line x1="222" y1="271.38" x2="222" y2="304.07" stroke="#222" stroke-width="0.9"/>
<line x1="218.5" y1="271.38" x2="225.5" y2="271.38" stroke="#222" stroke-width="0.9"/>
<line x1="218.5" y1="304.07" x2="225.5" y2="304.07" stroke="#222" stroke-width="0.9"/>
<line x1="62.8" y1="336.77" x2="62.8" y2="342.22" stroke="#222" stroke-width="0.9"/>
<line x1="59.3" y1="336.77" x2="66.3" y2="336.77" stroke="#222" stroke-width="0.9"/>
<line x1="59.3" y1="342.22" x2="66.3" y2="342.22" stroke="#222" stroke-width="0.9"/>
<line x1="115" y1="304.07" x2="115" y2="331.32" stroke="#222" stroke-width="0.9"/>
<line x1="111.5" y1="304.07" x2="118.5" y2="304.07" stroke="#222" stroke-width="0.9"/>
<line x1="111.5" y1="331.32" x2="118.5" y2="331.32" stroke="#222" stroke-width="0.9"/>
<line x1="168.5" y1="285.00" x2="168.5" y2="317.70" stroke="#222" stroke-width="0.9"/>
<line x1="165.0" y1="285.00" x2="172.0" y2="285.00" stroke="#222" stroke-width="0.9"/>
<line x1="165.0" y1="317.70" x2="172.0" y2="317.70" stroke="#222" stroke-width="0.9"/>
<line x1="222" y1="275.46" x2="222" y2="286.36" stroke="#222" stroke-width="0.9"/>
<line x1="218.5" y1="275.46" x2="225.5" y2="275.46" stroke="#222" stroke-width="0.9"/>
<line x1="218.5" y1="286.36" x2="225.5" y2="286.36" stroke="#222" stroke-width="0.9"/>
<line x1="62.8" y1="339.50" x2="62.8" y2="344.95" stroke="#222" stroke-width="0.9"/>
<line x1="59.3" y1="339.50" x2="66.3" y2="339.50" stroke="#222" stroke-width="0.9"/>
<line x1="59.3" y1="344.95" x2="66.3" y2="344.95" stroke="#222" stroke-width="0.9"/>
<line x1="115" y1="325.88" x2="115" y2="336.77" stroke="#222" stroke-width="0.9"/>
<line x1="111.5" y1="325.88" x2="118.5" y2="325.88" stroke="#222" stroke-width="0.9"/>
<line x1="111.5" y1="336.77" x2="118.5" y2="336.77" stroke="#222" stroke-width="0.9"/>
<line x1="168.5" y1="312.25" x2="168.5" y2="323.15" stroke="#222" stroke-width="0.9"/>
<line x1="165.0" y1="312.25" x2="172.0" y2="312.25" stroke="#222" stroke-width="0.9"/>
<line x1="165.0" y1="323.15" x2="172.0" y2="323.15" stroke="#222" stroke-width="0.9"/>
<line x1="222" y1="259.11" x2="222" y2="287.45" stroke="#222" stroke-width="0.9"/>
<line x1="218.5" y1="259.11" x2="225.5" y2="259.11" stroke="#222" stroke-width="0.9"/>
<line x1="218.5" y1="287.45" x2="225.5" y2="287.45" stroke="#222" stroke-width="0.9"/>
<line x1="62.8" y1="339.50" x2="62.8" y2="350.40" stroke="#d24a56" stroke-width="0.9"/>
<line x1="59.3" y1="339.50" x2="66.3" y2="339.50" stroke="#d24a56" stroke-width="0.9"/>
<line x1="115" y1="334.05" x2="115" y2="344.95" stroke="#d24a56" stroke-width="0.9"/>
<line x1="111.5" y1="334.05" x2="118.5" y2="334.05" stroke="#d24a56" stroke-width="0.9"/>
<line x1="111.5" y1="344.95" x2="118.5" y2="344.95" stroke="#d24a56" stroke-width="0.9"/>
<line x1="168.5" y1="328.60" x2="168.5" y2="344.95" stroke="#d24a56" stroke-width="0.9"/>
<line x1="165.0" y1="328.60" x2="172.0" y2="328.60" stroke="#d24a56" stroke-width="0.9"/>
<line x1="165.0" y1="344.95" x2="172.0" y2="344.95" stroke="#d24a56" stroke-width="0.9"/>
<line x1="222" y1="320.42" x2="222" y2="342.22" stroke="#d24a56" stroke-width="0.9"/>
<line x1="218.5" y1="320.42" x2="225.5" y2="320.42" stroke="#d24a56" stroke-width="0.9"/>
<line x1="218.5" y1="342.22" x2="225.5" y2="342.22" stroke="#d24a56" stroke-width="0.9"/>
<line x1="62.8" y1="344.95" x2="62.8" y2="350.40" stroke="#d24a56" stroke-width="0.9"/>
<line x1="59.3" y1="344.95" x2="66.3" y2="344.95" stroke="#d24a56" stroke-width="0.9"/>
<line x1="115" y1="336.77" x2="115" y2="347.67" stroke="#d24a56" stroke-width="0.9"/>
<line x1="111.5" y1="336.77" x2="118.5" y2="336.77" stroke="#d24a56" stroke-width="0.9"/>
<line x1="111.5" y1="347.67" x2="118.5" y2="347.67" stroke="#d24a56" stroke-width="0.9"/>
<line x1="168.5" y1="339.50" x2="168.5" y2="350.40" stroke="#d24a56" stroke-width="0.9"/>
<line x1="165.0" y1="339.50" x2="172.0" y2="339.50" stroke="#d24a56" stroke-width="0.9"/>
<line x1="222" y1="328.60" x2="222" y2="344.95" stroke="#d24a56" stroke-width="0.9"/>
<line x1="218.5" y1="328.60" x2="225.5" y2="328.60" stroke="#d24a56" stroke-width="0.9"/>
<line x1="218.5" y1="344.95" x2="225.5" y2="344.95" stroke="#d24a56" stroke-width="0.9"/>
<line x1="62.8" y1="336.77" x2="62.8" y2="347.67" stroke="#d24a56" stroke-width="0.9"/>
<line x1="59.3" y1="336.77" x2="66.3" y2="336.77" stroke="#d24a56" stroke-width="0.9"/>
<line x1="59.3" y1="347.67" x2="66.3" y2="347.67" stroke="#d24a56" stroke-width="0.9"/>
<line x1="115" y1="336.77" x2="115" y2="347.67" stroke="#d24a56" stroke-width="0.9"/>
<line x1="111.5" y1="336.77" x2="118.5" y2="336.77" stroke="#d24a56" stroke-width="0.9"/>
<line x1="111.5" y1="347.67" x2="118.5" y2="347.67" stroke="#d24a56" stroke-width="0.9"/>
<line x1="168.5" y1="328.60" x2="168.5" y2="344.95" stroke="#d24a56" stroke-width="0.9"/>
<line x1="165.0" y1="328.60" x2="172.0" y2="328.60" stroke="#d24a56" stroke-width="0.9"/>
<line x1="165.0" y1="344.95" x2="172.0" y2="344.95" stroke="#d24a56" stroke-width="0.9"/>
<line x1="222" y1="323.15" x2="222" y2="344.95" stroke="#d24a56" stroke-width="0.9"/>
<line x1="218.5" y1="323.15" x2="225.5" y2="323.15" stroke="#d24a56" stroke-width="0.9"/>
<line x1="218.5" y1="344.95" x2="225.5" y2="344.95" stroke="#d24a56" stroke-width="0.9"/>
<line x1="62.8" y1="338.14" x2="62.8" y2="349.04" stroke="#d24a56" stroke-width="0.9"/>
<line x1="59.3" y1="338.14" x2="66.3" y2="338.14" stroke="#d24a56" stroke-width="0.9"/>
<line x1="59.3" y1="349.04" x2="66.3" y2="349.04" stroke="#d24a56" stroke-width="0.9"/>
<line x1="115" y1="334.05" x2="115" y2="344.95" stroke="#d24a56" stroke-width="0.9"/>
<line x1="111.5" y1="334.05" x2="118.5" y2="334.05" stroke="#d24a56" stroke-width="0.9"/>
<line x1="111.5" y1="344.95" x2="118.5" y2="344.95" stroke="#d24a56" stroke-width="0.9"/>
<line x1="168.5" y1="328.60" x2="168.5" y2="344.95" stroke="#d24a56" stroke-width="0.9"/>
<line x1="165.0" y1="328.60" x2="172.0" y2="328.60" stroke="#d24a56" stroke-width="0.9"/>
<line x1="165.0" y1="344.95" x2="172.0" y2="344.95" stroke="#d24a56" stroke-width="0.9"/>
<line x1="222" y1="320.42" x2="222" y2="342.22" stroke="#d24a56" stroke-width="0.9"/>
<line x1="218.5" y1="320.42" x2="225.5" y2="320.42" stroke="#d24a56" stroke-width="0.9"/>
<line x1="218.5" y1="342.22" x2="225.5" y2="342.22" stroke="#d24a56" stroke-width="0.9"/>
<line x1="62.8" y1="339.50" x2="62.8" y2="350.40" stroke="#d24a56" stroke-width="0.9"/>
<line x1="59.3" y1="339.50" x2="66.3" y2="339.50" stroke="#d24a56" stroke-width="0.9"/>
<line x1="115" y1="336.77" x2="115" y2="347.67" stroke="#d24a56" stroke-width="0.9"/>
<line x1="111.5" y1="336.77" x2="118.5" y2="336.77" stroke="#d24a56" stroke-width="0.9"/>
<line x1="111.5" y1="347.67" x2="118.5" y2="347.67" stroke="#d24a56" stroke-width="0.9"/>
<line x1="168.5" y1="331.32" x2="168.5" y2="347.67" stroke="#d24a56" stroke-width="0.9"/>
<line x1="165.0" y1="331.32" x2="172.0" y2="331.32" stroke="#d24a56" stroke-width="0.9"/>
<line x1="165.0" y1="347.67" x2="172.0" y2="347.67" stroke="#d24a56" stroke-width="0.9"/>
<line x1="222" y1="323.15" x2="222" y2="344.95" stroke="#d24a56" stroke-width="0.9"/>
<line x1="218.5" y1="323.15" x2="225.5" y2="323.15" stroke="#d24a56" stroke-width="0.9"/>
<line x1="218.5" y1="344.95" x2="225.5" y2="344.95" stroke="#d24a56" stroke-width="0.9"/>
<line x1="62.8" y1="336.77" x2="62.8" y2="347.67" stroke="#d24a56" stroke-width="0.9"/>
<line x1="59.3" y1="336.77" x2="66.3" y2="336.77" stroke="#d24a56" stroke-width="0.9"/>
<line x1="59.3" y1="347.67" x2="66.3" y2="347.67" stroke="#d24a56" stroke-width="0.9"/>
<line x1="115" y1="332.69" x2="115" y2="343.59" stroke="#d24a56" stroke-width="0.9"/>
<line x1="111.5" y1="332.69" x2="118.5" y2="332.69" stroke="#d24a56" stroke-width="0.9"/>
<line x1="111.5" y1="343.59" x2="118.5" y2="343.59" stroke="#d24a56" stroke-width="0.9"/>
<line x1="168.5" y1="327.24" x2="168.5" y2="343.59" stroke="#d24a56" stroke-width="0.9"/>
<line x1="165.0" y1="327.24" x2="172.0" y2="327.24" stroke="#d24a56" stroke-width="0.9"/>
<line x1="165.0" y1="343.59" x2="172.0" y2="343.59" stroke="#d24a56" stroke-width="0.9"/>
<line x1="222" y1="316.34" x2="222" y2="343.59" stroke="#d24a56" stroke-width="0.9"/>
<line x1="218.5" y1="316.34" x2="225.5" y2="316.34" stroke="#d24a56" stroke-width="0.9"/>
<line x1="218.5" y1="343.59" x2="225.5" y2="343.59" stroke="#d24a56" stroke-width="0.9"/>
<rect x="59.85" y="340.64" width="5.90" height="5.90" fill="none" stroke="#1a1a1a" stroke-width="1.0"/>
<rect x="112.05" y="320.20" width="5.90" height="5.90" fill="none" stroke="#1a1a1a" stroke-width="1.0"/>
<rect x="165.55" y="303.85" width="5.90" height="5.90" fill="none" stroke="#1a1a1a" stroke-width="1.0"/>
<rect x="219.05" y="284.77" width="5.90" height="5.90" fill="none" stroke="#1a1a1a" stroke-width="1.0"/>
<path d="M59.35,336.39 L66.25,336.39 L62.80,342.78 Z" fill="#1a1a1a"/>
<path d="M111.55,314.59 L118.45,314.59 L115.00,320.98 Z" fill="#1a1a1a"/>
<path d="M165.05,298.24 L171.95,298.24 L168.50,304.63 Z" fill="#1a1a1a"/>
<path d="M218.55,277.81 L225.45,277.81 L222.00,284.19 Z" fill="#1a1a1a"/>
<circle cx="62.80" cy="342.22" r="3.45" fill="#1a1a1a"/>
<circle cx="115.00" cy="331.32" r="3.45" fill="#1a1a1a"/>
<circle cx="168.50" cy="317.70" r="3.45" fill="#1a1a1a"/>
<circle cx="222.00" cy="273.28" r="3.45" fill="#1a1a1a"/>
<path d="M59.07,348.12 L66.53,348.12 L62.80,341.33 Z" fill="none" stroke="#c8303c" stroke-width="1.0" stroke-linejoin="miter"/>
<path d="M111.27,342.67 L118.73,342.67 L115.00,335.88 Z" fill="none" stroke="#c8303c" stroke-width="1.0" stroke-linejoin="miter"/>
<path d="M164.77,339.95 L172.23,339.95 L168.50,333.15 Z" fill="none" stroke="#c8303c" stroke-width="1.0" stroke-linejoin="miter"/>
<path d="M218.27,334.50 L225.73,334.50 L222.00,327.70 Z" fill="none" stroke="#c8303c" stroke-width="1.0" stroke-linejoin="miter"/>
<circle cx="62.80" cy="347.67" r="2.95" fill="none" stroke="#c8303c" stroke-width="1.0"/>
<circle cx="115.00" cy="342.22" r="2.95" fill="none" stroke="#c8303c" stroke-width="1.0"/>
<circle cx="168.50" cy="344.95" r="2.95" fill="none" stroke="#c8303c" stroke-width="1.0"/>
<circle cx="222.00" cy="336.77" r="2.95" fill="none" stroke="#c8303c" stroke-width="1.0"/>
<rect x="59.35" y="338.77" width="6.90" height="6.90" fill="#e8222e"/>
<rect x="111.55" y="338.77" width="6.90" height="6.90" fill="#e8222e"/>
<rect x="165.05" y="333.32" width="6.90" height="6.90" fill="#e8222e"/>
<rect x="218.55" y="330.60" width="6.90" height="6.90" fill="#e8222e"/>
<circle cx="62.80" cy="343.59" r="3.45" fill="#e8222e"/>
<circle cx="115.00" cy="339.50" r="3.45" fill="#e8222e"/>
<circle cx="168.50" cy="336.77" r="3.45" fill="#e8222e"/>
<circle cx="222.00" cy="331.32" r="3.45" fill="#e8222e"/>
<path d="M59.07,341.78 L66.53,341.78 L62.80,348.57 Z" fill="none" stroke="#c8303c" stroke-width="1.0" stroke-linejoin="miter"/>
<path d="M111.27,339.05 L118.73,339.05 L115.00,345.85 Z" fill="none" stroke="#c8303c" stroke-width="1.0" stroke-linejoin="miter"/>
<path d="M164.77,336.33 L172.23,336.33 L168.50,343.12 Z" fill="none" stroke="#c8303c" stroke-width="1.0" stroke-linejoin="miter"/>
<path d="M218.27,330.88 L225.73,330.88 L222.00,337.67 Z" fill="none" stroke="#c8303c" stroke-width="1.0" stroke-linejoin="miter"/>
<path d="M59.35,345.33 L66.25,345.33 L62.80,338.95 Z" fill="#e8222e"/>
<path d="M111.55,341.24 L118.45,341.24 L115.00,334.86 Z" fill="#e8222e"/>
<path d="M165.05,338.52 L171.95,338.52 L168.50,332.13 Z" fill="#e8222e"/>
<path d="M218.55,333.07 L225.45,333.07 L222.00,326.69 Z" fill="#e8222e"/>
<line x1="75.7" y1="221.75" x2="87.2" y2="221.75" stroke="#222" stroke-width="0.9"/>
<circle cx="80.60" cy="221.75" r="3.45" fill="#1a1a1a"/>
<text x="89.90" y="225.05" font-size="8.3" text-anchor="start" fill="#111" style="stroke-width:0.18px">H1</text>
<line x1="75.7" y1="232.05" x2="87.2" y2="232.05" stroke="#222" stroke-width="0.9"/>
<rect x="77.65" y="229.10" width="5.90" height="5.90" fill="none" stroke="#1a1a1a" stroke-width="1.0"/>
<text x="89.90" y="235.35" font-size="8.3" text-anchor="start" fill="#111" style="stroke-width:0.18px">H2</text>
<line x1="75.7" y1="241.85" x2="87.2" y2="241.85" stroke="#222" stroke-width="0.9"/>
<path d="M77.15,238.75 L84.05,238.75 L80.60,245.13 Z" fill="#1a1a1a"/>
<text x="89.90" y="245.15" font-size="8.3" text-anchor="start" fill="#111" style="stroke-width:0.18px">H3</text>
<line x1="75.7" y1="251.75" x2="87.2" y2="251.75" stroke="#e06a74" stroke-width="0.9"/>
<path d="M76.87,254.92 L84.33,254.92 L80.60,248.13 Z" fill="none" stroke="#c8303c" stroke-width="1.0" stroke-linejoin="miter"/>
<text x="89.90" y="255.05" font-size="8.3" text-anchor="start" fill="#111" style="stroke-width:0.18px">P1</text>
<line x1="75.7" y1="261.85" x2="87.2" y2="261.85" stroke="#e06a74" stroke-width="0.9"/>
<circle cx="80.60" cy="261.85" r="2.95" fill="none" stroke="#c8303c" stroke-width="1.0"/>
<text x="89.90" y="265.15" font-size="8.3" text-anchor="start" fill="#111" style="stroke-width:0.18px">P2</text>
<line x1="75.7" y1="271.05" x2="87.2" y2="271.05" stroke="#e06a74" stroke-width="0.9"/>
<rect x="77.15" y="267.60" width="6.90" height="6.90" fill="#e8222e"/>
<text x="89.90" y="274.35" font-size="8.3" text-anchor="start" fill="#111" style="stroke-width:0.18px">P3</text>
<line x1="75.7" y1="280.05" x2="87.2" y2="280.05" stroke="#e06a74" stroke-width="0.9"/>
<circle cx="80.60" cy="280.05" r="3.45" fill="#e8222e"/>
<text x="89.90" y="283.35" font-size="8.3" text-anchor="start" fill="#111" style="stroke-width:0.18px">P4</text>
<line x1="75.7" y1="289.35" x2="87.2" y2="289.35" stroke="#e06a74" stroke-width="0.9"/>
<path d="M76.87,286.18 L84.33,286.18 L80.60,292.97 Z" fill="none" stroke="#c8303c" stroke-width="1.0" stroke-linejoin="miter"/>
<text x="89.90" y="292.65" font-size="8.3" text-anchor="start" fill="#111" style="stroke-width:0.18px">P5</text>
<line x1="75.7" y1="298.60" x2="87.2" y2="298.60" stroke="#e06a74" stroke-width="0.9"/>
<path d="M77.15,301.71 L84.05,301.71 L80.60,295.32 Z" fill="#e8222e"/>
<text x="89.90" y="301.90" font-size="8.3" text-anchor="start" fill="#111" style="stroke-width:0.18px">P6</text>
<line x1="320.3" y1="242.40" x2="320.3" y2="351.4" stroke="#1a1a1a" stroke-width="1.3"/>
<line x1="319.65000000000003" y1="351.4" x2="488.40" y2="351.4" stroke="#1a1a1a" stroke-width="1.3"/>
<line x1="316.8" y1="351.40" x2="320.3" y2="351.40" stroke="#1a1a1a" stroke-width="1.1"/>
<text x="316.50" y="355.60" font-size="10.3" text-anchor="end" fill="#111" >0</text>
<line x1="316.8" y1="329.60" x2="320.3" y2="329.60" stroke="#1a1a1a" stroke-width="1.1"/>
<text x="316.50" y="333.80" font-size="10.3" text-anchor="end" fill="#111" >5</text>
<line x1="316.8" y1="307.80" x2="320.3" y2="307.80" stroke="#1a1a1a" stroke-width="1.1"/>
<text x="316.50" y="312.00" font-size="10.3" text-anchor="end" fill="#111" >10</text>
<line x1="316.8" y1="286.00" x2="320.3" y2="286.00" stroke="#1a1a1a" stroke-width="1.1"/>
<text x="316.50" y="290.20" font-size="10.3" text-anchor="end" fill="#111" >15</text>
<line x1="316.8" y1="264.20" x2="320.3" y2="264.20" stroke="#1a1a1a" stroke-width="1.1"/>
<text x="316.50" y="268.40" font-size="10.3" text-anchor="end" fill="#111" >20</text>
<line x1="316.8" y1="242.40" x2="320.3" y2="242.40" stroke="#1a1a1a" stroke-width="1.1"/>
<text x="316.50" y="246.60" font-size="10.3" text-anchor="end" fill="#111" >25</text>
<line x1="320.30" y1="351.4" x2="320.30" y2="354.9" stroke="#1a1a1a" stroke-width="1.1"/>
<text x="320.30" y="363.60" font-size="10.3" text-anchor="middle" fill="#111" >0</text>
<line x1="362.20" y1="351.4" x2="362.20" y2="354.9" stroke="#1a1a1a" stroke-width="1.1"/>
<text x="362.20" y="363.60" font-size="10.3" text-anchor="middle" fill="#111" >10</text>
<line x1="404.10" y1="351.4" x2="404.10" y2="354.9" stroke="#1a1a1a" stroke-width="1.1"/>
<text x="404.10" y="363.60" font-size="10.3" text-anchor="middle" fill="#111" >20</text>
<line x1="446.00" y1="351.4" x2="446.00" y2="354.9" stroke="#1a1a1a" stroke-width="1.1"/>
<text x="446.00" y="363.60" font-size="10.3" text-anchor="middle" fill="#111" >30</text>
<line x1="487.90" y1="351.4" x2="487.90" y2="354.9" stroke="#1a1a1a" stroke-width="1.1"/>
<text x="487.90" y="363.60" font-size="10.3" text-anchor="middle" fill="#111" >40</text>
<text x="403.90" y="378.20" font-size="10.55" text-anchor="middle" fill="#111" >Relative MEG3 expression</text>
<text x="0" y="0" font-size="10.67" text-anchor="middle" fill="#111" transform="translate(298.0,295.9) rotate(-90)">Relative BMP4 expression</text>
<text x="453.60" y="250.60" font-size="10.3" text-anchor="start" fill="#111" >r=0.9084</text>
<line x1="324.49" y1="338.32" x2="446.00" y2="271.18" stroke="#1a1a1a" stroke-width="1.1"/>
<circle cx="324.49" cy="347.04" r="2.35" fill="#1a1a1a"/>
<circle cx="328.68" cy="342.68" r="2.35" fill="#1a1a1a"/>
<circle cx="328.68" cy="338.32" r="2.35" fill="#1a1a1a"/>
<circle cx="332.87" cy="338.32" r="2.35" fill="#1a1a1a"/>
<circle cx="341.25" cy="338.32" r="2.35" fill="#1a1a1a"/>
<circle cx="332.87" cy="329.60" r="2.35" fill="#1a1a1a"/>
<circle cx="337.06" cy="333.96" r="2.35" fill="#1a1a1a"/>
<circle cx="341.25" cy="333.96" r="2.35" fill="#1a1a1a"/>
<circle cx="341.25" cy="329.60" r="2.35" fill="#1a1a1a"/>
<circle cx="332.87" cy="325.24" r="2.35" fill="#1a1a1a"/>
<circle cx="337.06" cy="325.24" r="2.35" fill="#1a1a1a"/>
<circle cx="341.25" cy="325.24" r="2.35" fill="#1a1a1a"/>
<circle cx="345.44" cy="325.24" r="2.35" fill="#1a1a1a"/>
<circle cx="349.63" cy="333.96" r="2.35" fill="#1a1a1a"/>
<circle cx="353.82" cy="329.60" r="2.35" fill="#1a1a1a"/>
<circle cx="345.44" cy="316.52" r="2.35" fill="#1a1a1a"/>
<circle cx="349.63" cy="312.16" r="2.35" fill="#1a1a1a"/>
<circle cx="349.63" cy="316.52" r="2.35" fill="#1a1a1a"/>
<circle cx="353.82" cy="316.52" r="2.35" fill="#1a1a1a"/>
<circle cx="362.20" cy="307.80" r="2.35" fill="#1a1a1a"/>
<circle cx="383.15" cy="312.16" r="2.35" fill="#1a1a1a"/>
<circle cx="391.53" cy="312.16" r="2.35" fill="#1a1a1a"/>
<circle cx="404.10" cy="277.28" r="2.35" fill="#1a1a1a"/>
<circle cx="412.48" cy="294.72" r="2.35" fill="#1a1a1a"/>
<circle cx="412.48" cy="299.08" r="2.35" fill="#1a1a1a"/>
<circle cx="425.05" cy="264.20" r="2.35" fill="#1a1a1a"/>
<circle cx="425.05" cy="286.00" r="2.35" fill="#1a1a1a"/>
<circle cx="446.00" cy="281.64" r="2.35" fill="#1a1a1a"/>
</svg></body></html>
